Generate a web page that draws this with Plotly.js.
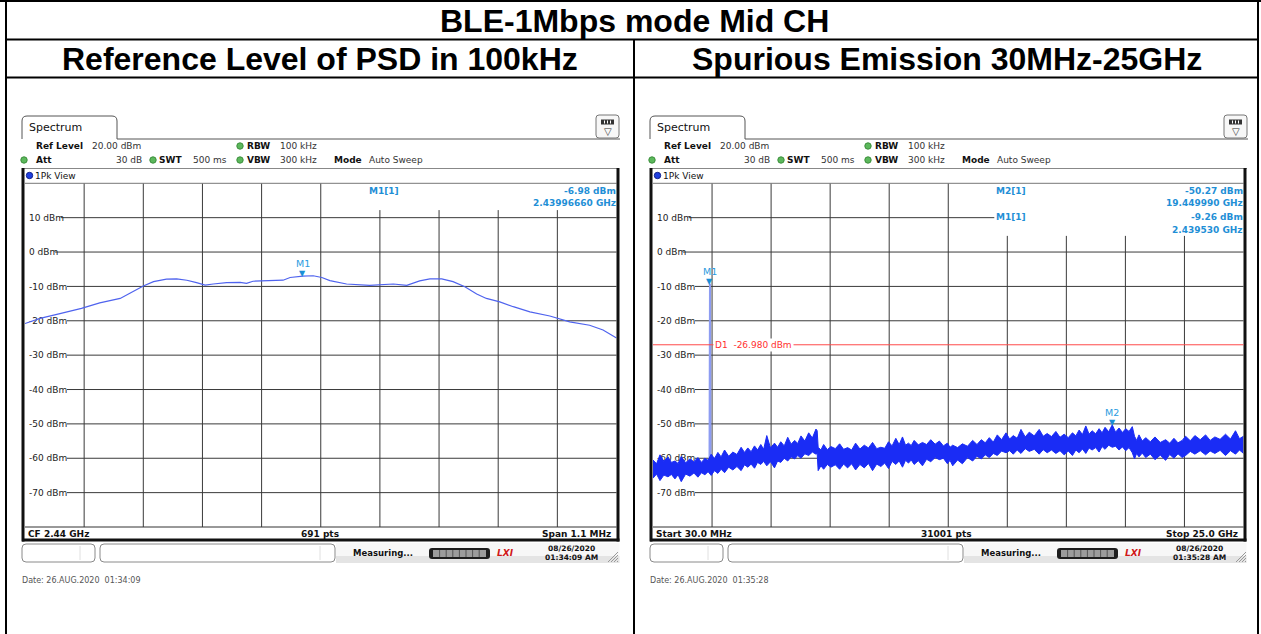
<!DOCTYPE html>
<html><head><meta charset="utf-8">
<script src="https://cdn.plot.ly/plotly-3.0.1.min.js"></script>
<style>html,body{margin:0;padding:0;background:#fff;}#chart{width:1261px;height:634px;}</style>
</head><body><div id="chart"></div>
<script>
// ---------------- data ----------------
const tableTitle = 'BLE-1Mbps mode Mid CH';
const panelTitles = ['Reference Level of PSD in 100kHz', 'Spurious Emission 30MHz-25GHz'];
const yTickVals = [10, 0, -10, -20, -30, -40, -50, -60, -70];
const yTickText = ['10 dBm', '0 dBm', '-10 dBm', '-20 dBm', '-30 dBm', '-40 dBm', '-50 dBm', '-60 dBm', '-70 dBm'];

// Left: PSD, CF 2.44 GHz, span 1.1 MHz
const psdFreqGHz = [2.43945, 2.439478, 2.439515, 2.439555, 2.439589, 2.439614, 2.439627, 2.439645, 2.439670, 2.439689,
  2.439713, 2.439732, 2.439751, 2.439769, 2.439785, 2.439800, 2.439825, 2.439850, 2.439862, 2.439874,
  2.439899, 2.439930, 2.439943, 2.4399666, 2.439986, 2.440002, 2.440017, 2.440048, 2.440091, 2.440135,
  2.440160, 2.440184, 2.440203, 2.440225, 2.440246, 2.440268, 2.440290, 2.440308, 2.440333, 2.440358,
  2.440389, 2.440426, 2.440463, 2.440500, 2.440525, 2.44055];
const psdLevel = [-20.8, -19.3, -17.9, -16.4, -14.8, -13.8, -13.5, -12.0, -9.9, -8.6,
  -7.9, -7.8, -8.2, -8.9, -9.6, -9.3, -8.9, -8.8, -9.1, -8.5,
  -8.4, -8.2, -7.4, -6.98, -6.9, -7.4, -8.3, -9.3, -9.7, -9.3,
  -9.7, -8.4, -7.8, -7.8, -8.6, -10.1, -12.2, -13.5, -14.5, -15.9,
  -17.4, -18.6, -20.3, -21.3, -22.7, -25.0];
const psdMarkerNames = ['M1'];
const psdMarkerFreq = [2.4399666];
const psdMarkerLevel = [-6.98];

// Right: spurious 30 MHz - 25 GHz (upper / lower edge of the noise band)
const spurFreqGHz = [0.03, 0.18, 0.325, 0.49, 0.663, 0.81, 0.958, 1.09, 1.224, 1.41,
  1.591, 1.76, 1.929, 2.08, 2.224, 2.36, 2.490, 2.63, 2.773, 2.91,
  3.056, 3.23, 3.406, 3.58, 3.756, 3.90, 4.039, 4.18, 4.322, 4.45,
  4.588, 4.71, 4.841, 5.00, 5.166, 5.30, 5.432, 5.58, 5.727, 5.87,
  6.022, 6.15, 6.288, 6.45, 6.613, 6.77, 6.921, 6.972, 7.014, 7.13,
  7.246, 7.40, 7.554, 7.74, 7.921, 8.09, 8.259, 8.43, 8.597, 8.78,
  8.964, 9.14, 9.314, 9.49, 9.664, 9.83, 9.989, 10.14, 10.297, 10.44,
  10.580, 10.71, 10.833, 10.95, 11.074, 11.25, 11.424, 11.60, 11.774, 11.96,
  12.141, 12.31, 12.479, 12.59, 12.703, 12.91, 13.112, 13.33, 13.547, 13.73,
  13.914, 14.08, 14.251, 14.42, 14.589, 14.77, 14.957, 15.11, 15.265, 15.43,
  15.590, 15.77, 15.940, 16.15, 16.361, 16.53, 16.699, 16.88, 17.066, 17.24,
  17.416, 17.59, 17.767, 17.91, 18.049, 18.19, 18.332, 18.47, 18.598, 18.75,
  18.893, 19.02, 19.146, 19.30, 19.450, 19.59, 19.737, 19.88, 20.020, 20.16,
  20.298, 20.391, 20.48, 20.581, 20.72, 20.864, 21.06, 21.256, 21.48, 21.708,
  21.88, 22.058, 22.23, 22.409, 22.552, 22.75, 22.945, 23.17, 23.397, 23.59,
  23.789, 24.01, 24.240, 24.45, 24.662, 24.83, 25.0];
const spurUpper = [-60.5, -61.6, -59.0, -60.9, -59.6, -61.2, -60.8, -61.5, -59.5, -61.3,
  -60.2, -61.0, -59.8, -61.2, -60.0, -60.6, -58.8, -60.1, -58.3, -59.6,
  -57.6, -59.4, -58.2, -58.9, -56.8, -58.3, -57.0, -58.1, -56.4, -57.6,
  -56.0, -57.4, -53.4, -57.0, -55.6, -56.8, -55.2, -56.4, -53.9, -55.9,
  -54.8, -55.7, -53.5, -55.0, -52.6, -54.1, -51.5, -52.0, -56.8, -57.6,
  -56.0, -57.5, -56.6, -57.2, -55.8, -57.4, -56.9, -57.6, -55.6, -57.3,
  -56.2, -57.0, -55.4, -57.2, -56.8, -57.1, -55.2, -56.4, -54.2, -56.0,
  -53.8, -56.2, -55.6, -56.3, -54.8, -56.1, -55.4, -56.0, -54.6, -55.9,
  -55.0, -56.4, -55.6, -56.8, -56.2, -56.9, -55.8, -56.5, -54.8, -56.0,
  -54.6, -55.5, -54.0, -55.3, -53.2, -54.6, -52.6, -54.4, -53.4, -54.2,
  -51.6, -53.8, -52.4, -53.5, -51.6, -53.6, -52.8, -53.7, -52.2, -53.9,
  -53.0, -54.0, -52.6, -53.5, -51.8, -53.1, -50.6, -53.0, -52.0, -52.9,
  -51.4, -52.6, -51.0, -52.3, -50.27, -52.4, -51.2, -52.5, -51.4, -52.2,
  -50.8, -53.6, -54.8, -53.2, -55.0, -54.0, -55.2, -53.8, -55.4, -54.6,
  -55.6, -54.2, -55.5, -54.8, -53.6, -54.9, -53.4, -54.6, -53.2, -54.8,
  -53.8, -54.5, -53.0, -54.4, -52.0, -54.3, -53.6];
const spurLower = [-65.8, -64.6, -66.5, -64.9, -65.4, -64.7, -66.0, -64.8, -66.8, -64.6,
  -65.2, -64.3, -65.5, -64.2, -64.8, -63.9, -65.0, -63.6, -64.4, -63.2,
  -64.2, -62.6, -63.4, -62.4, -63.6, -61.9, -62.6, -61.7, -62.9, -61.2,
  -61.8, -60.9, -62.2, -61.0, -62.8, -60.8, -61.2, -60.0, -60.8, -59.6,
  -60.2, -59.2, -60.0, -58.7, -59.2, -58.2, -58.8, -58.6, -63.6, -62.2,
  -63.2, -61.8, -62.6, -61.9, -63.2, -61.7, -62.8, -61.6, -63.4, -61.8,
  -62.8, -61.5, -63.6, -61.7, -62.4, -61.4, -63.0, -60.9, -61.8, -60.8,
  -62.6, -60.6, -61.4, -60.5, -61.8, -60.7, -62.2, -60.3, -61.0, -59.8,
  -60.4, -60.0, -61.6, -60.6, -62.2, -60.5, -61.6, -59.8, -60.8, -59.4,
  -60.2, -59.0, -59.8, -58.6, -59.2, -57.9, -58.4, -57.8, -58.8, -57.6,
  -58.6, -57.2, -58.0, -57.4, -58.8, -57.5, -58.4, -57.6, -58.6, -57.8,
  -59.0, -57.9, -59.2, -57.6, -58.4, -57.3, -58.6, -57.0, -57.6, -56.9,
  -58.2, -56.6, -57.4, -56.2, -56.8, -56.5, -57.6, -56.7, -57.8, -56.9,
  -58.4, -60.2, -58.6, -59.6, -58.5, -59.8, -58.8, -60.4, -59.1, -60.6,
  -58.9, -60.0, -58.7, -59.8, -59.2, -58.0, -58.8, -57.8, -59.0, -57.9,
  -58.6, -57.7, -59.2, -57.8, -58.8, -57.6, -58.6];
const carrierFreqGHz = [2.42, 2.43953, 2.46];
const carrierLevel = [-60.0, -9.26, -60.0];
const spurMarkerNames = ['M1', 'M2'];
const spurMarkerFreq = [2.43953, 19.44999];
const spurMarkerLevel = [-9.26, -50.27];
const d1Level = -26.98;

// ---------------- helpers ----------------
const W = 1261, H = 634;
const X = px => px / W;
const Y = py => 1 - py / H;
const P = (x, y) => X(x) + ',' + Y(y);
const UI = 'DejaVu Sans, Verdana, sans-serif';
const TF = 'Liberation Sans, Arial, sans-serif';
const INFO = '#1f8fd6';
const shapes = [], annotations = [];

function line(x0, y0, x1, y1, color, width, layer) {
  shapes.push({type: 'line', xref: 'paper', yref: 'paper', x0: X(x0), y0: Y(y0), x1: X(x1), y1: Y(y1),
    line: {color: color, width: width}, layer: layer || 'above'});
}
function rect(x0, y0, x1, y1, fill, lc, lw, layer) {
  shapes.push({type: 'rect', xref: 'paper', yref: 'paper', x0: X(x0), y0: Y(y0), x1: X(x1), y1: Y(y1),
    fillcolor: fill || 'rgba(0,0,0,0)', line: {color: lc || 'rgba(0,0,0,0)', width: lw || 0}, layer: layer || 'above'});
}
function rrect(x0, y0, x1, y1, r, fill, lc, lw) {
  const p = 'M' + P(x0 + r, y0) + ' L' + P(x1 - r, y0) + ' Q' + P(x1, y0) + ' ' + P(x1, y0 + r) +
    ' L' + P(x1, y1 - r) + ' Q' + P(x1, y1) + ' ' + P(x1 - r, y1) + ' L' + P(x0 + r, y1) +
    ' Q' + P(x0, y1) + ' ' + P(x0, y1 - r) + ' L' + P(x0, y0 + r) + ' Q' + P(x0, y0) + ' ' + P(x0 + r, y0) + ' Z';
  shapes.push({type: 'path', xref: 'paper', yref: 'paper', path: p, fillcolor: fill || 'rgba(0,0,0,0)',
    line: {color: lc || 'rgba(0,0,0,0)', width: lw || 0}, layer: 'above'});
}
function dot(cx, cy, r, fill, lc) {
  shapes.push({type: 'circle', xref: 'paper', yref: 'paper', x0: X(cx - r), x1: X(cx + r), y0: Y(cy + r), y1: Y(cy - r),
    fillcolor: fill, line: {color: lc, width: 1}, layer: 'above'});
}
function ann(x, y, t, size, o) {
  o = o || {};
  annotations.push(Object.assign({xref: 'paper', yref: 'paper', x: X(x), y: Y(y), text: t, showarrow: false,
    xanchor: o.xa || 'left', yanchor: o.ya || 'middle', borderpad: 0, borderwidth: 0,
    font: {family: o.family || UI, size: size, color: o.color || '#111'}}, o.extra || {}));
}

// ---------------- table frame ----------------
line(0, 1, W, 1, '#000', 2);
line(5, 39.5, 1259, 39.5, '#000', 2);
line(5, 77.5, 1259, 77.5, '#000', 2);
line(6, 0, 6, H, '#000', 2);
line(634, 39.5, 634, H, '#000', 2);
line(1258, 0, 1258, H, '#000', 2);
ann(634, 21, '<b>' + tableTitle + '</b>', 32, {xa: 'center', family: TF, color: '#000'});
ann(320, 59, '<b>' + panelTitles[0] + '</b>', 32, {xa: 'center', family: TF, color: '#000'});
ann(947, 59, '<b>' + panelTitles[1] + '</b>', 32, {xa: 'center', family: TF, color: '#000'});

// ---------------- analyzer panels ----------------
function panel(dx, cfg) {
  const tx0 = 22 + dx, tx1 = 117 + dx, ty0 = 116, ty1 = 139;
  shapes.push({type: 'path', xref: 'paper', yref: 'paper', layer: 'above',
    path: 'M' + P(tx0, ty1) + ' L' + P(tx0, ty0 + 5) + ' Q' + P(tx0, ty0) + ' ' + P(tx0 + 5, ty0) +
      ' L' + P(tx1 - 5, ty0) + ' Q' + P(tx1, ty0) + ' ' + P(tx1, ty0 + 5) + ' L' + P(tx1, ty1),
    line: {color: '#555', width: 1}});
  line(tx1, ty1, 620 + dx, ty1, '#555', 1);
  ann(29 + dx, 128, 'Spectrum', 11);
  rrect(596 + dx, 115, 619 + dx, 138, 3, '#f7f7f7', '#777', 1);
  rect(601 + dx, 119.5, 614 + dx, 124.5, '#333');
  [604.5, 607.5, 610.5].forEach(function (x) { line(x + dx, 120.5, x + dx, 123.5, '#fff', 1); });
  ann(607.5 + dx, 131, '▽', 10, {xa: 'center', color: '#333'});
  ann(36 + dx, 146, '<b>Ref Level</b>', 9); ann(92 + dx, 146, '20.00 dBm', 9, {color: '#333'});
  dot(240 + dx, 146, 3.2, '#5cb85c', '#3c8f3c');
  ann(247 + dx, 146, '<b>RBW</b>', 9); ann(280 + dx, 146, '100 kHz', 9, {color: '#333'});
  dot(24 + dx, 160, 3.2, '#5cb85c', '#3c8f3c');
  ann(36 + dx, 160, '<b>Att</b>', 9); ann(116 + dx, 160, '30 dB', 9, {color: '#333'});
  dot(153 + dx, 160, 3.2, '#5cb85c', '#3c8f3c');
  ann(159 + dx, 160, '<b>SWT</b>', 9); ann(193 + dx, 160, '500 ms', 9, {color: '#333'});
  dot(240 + dx, 160, 3.2, '#5cb85c', '#3c8f3c');
  ann(247 + dx, 160, '<b>VBW</b>', 9); ann(280 + dx, 160, '300 kHz', 9, {color: '#333'});
  ann(334 + dx, 160, '<b>Mode</b>', 9); ann(369 + dx, 160, 'Auto Sweep', 9, {color: '#333'});
  line(22 + dx, 168.5, 619 + dx, 168.5, '#888', 1);
  dot(29.5 + dx, 175.5, 3.2, '#1f3fe0', '#10208a');
  ann(35 + dx, 175.5, '1Pk View', 9);
  line(cfg.pl, 183.3, cfg.pr, 183.3, '#777', 1);
  line(cfg.pl, 527, cfg.pr, 527, '#333', 1);
  line(23 + dx, 168, 23 + dx, 541.5, '#111', 3);
  line(cfg.pr + 1.5, 168, cfg.pr + 1.5, 541.5, '#111', 3);
  line(22 + dx, 540, cfg.pr + 3, 540, '#111', 3);
  ann(28 + dx, 534, '<b>' + cfg.footL + '</b>', 9);
  ann(cfg.footMidX, 534, '<b>' + cfg.footM + '</b>', 9, {xa: 'center'});
  ann(cfg.pr - 6, 534, '<b>' + cfg.footR + '</b>', 9, {xa: 'right'});
  rect(336 + dx, 543, cfg.pr + 3, 556, '#f7f7f7');
  rect(336 + dx, 556, cfg.pr + 3, 563, '#e4e4e4');
  rrect(22 + dx, 544, 95 + dx, 562, 4, '#fff', '#8a8a8a', 1);
  line(80 + dx, 546, 80 + dx, 560, '#e0e0e0', 1);
  rrect(100 + dx, 544, 335 + dx, 562, 4, '#fff', '#8a8a8a', 1);
  line(320 + dx, 546, 320 + dx, 560, '#e0e0e0', 1);
  ann(353 + dx, 553, '<b>Measuring...</b>', 8.5);
  rrect(429 + dx, 548, 490 + dx, 559, 3, '#1e1e1e');
  rect(433 + dx, 550, 486 + dx, 557, '#9c9c9c');
  for (let k = 1; k < 8; k++) line(433 + dx + k * 6.6, 550, 433 + dx + k * 6.6, 557, '#555', 1);
  ann(505 + dx, 553, '<b><i>LXI</i></b>', 9, {xa: 'center', color: '#d01818'});
  ann(571 + dx, 548.5, '<b>08/26/2020</b>', 7.5, {xa: 'center'});
  ann(571 + dx, 557, '<b>' + cfg.clock + '</b>', 7.5, {xa: 'center'});
  for (let k = 0; k < 4; k++) line(608 + dx + k * 3, 562, 618 + dx, 552 + k * 3, '#999', 1);
  ann(22 + dx, 580.5, cfg.stamp, 8, {color: '#555'});

  const pw = cfg.pr - cfg.pl;
  for (let i = 1; i < 10; i++) {
    shapes.push({type: 'line', xref: cfg.xa + ' domain', yref: cfg.ya + ' domain', x0: i / 10, x1: i / 10,
      y0: 0, y1: i >= cfg.partFrom ? cfg.partTop : 1, line: {color: '#3a3a3a', width: 1}, layer: 'below'});
  }
  yTickVals.forEach(function (v, j) {
    const start = (6 * yTickText[j].length) / pw;
    shapes.push({type: 'line', xref: cfg.xa + ' domain', yref: cfg.ya, x0: start, x1: v === 10 ? cfg.tenEnd : 1,
      y0: v, y1: v, line: {color: '#3a3a3a', width: 1}, layer: 'below'});
  });
  cfg.info.forEach(function (it, k) {
    const y0 = 190.5 + k * 26.3;
    ann(cfg.infoX, y0, '<b>' + it.name + '[1]</b>', 9, {color: INFO});
    ann(cfg.pr - 1, y0, '<b>' + it.level.toFixed(2) + ' dBm</b>', 9, {xa: 'right', color: INFO});
    ann(cfg.pr - 1, y0 + 12.8, '<b>' + it.freq.toFixed(it.dec) + ' GHz</b>', 9, {xa: 'right', color: INFO});
  });
}

const L = {pl: 25, pr: 616.5, xa: 'x', ya: 'y', footL: 'CF 2.44 GHz', footM: '691 pts', footMidX: 320,
  footR: 'Span 1.1 MHz', clock: '01:34:09 AM', stamp: 'Date:&nbsp;26.AUG.2020&nbsp;&nbsp;01:34:09',
  partFrom: 6, partTop: 0.922, tenEnd: 1, infoX: 369,
  info: [{name: psdMarkerNames[0], level: psdMarkerLevel[0], freq: psdMarkerFreq[0], dec: 8}]};
const R = {pl: 653, pr: 1243.5, xa: 'x2', ya: 'y2', footL: 'Start 30.0 MHz', footM: '31001 pts', footMidX: 946,
  footR: 'Stop 25.0 GHz', clock: '01:35:28 AM', stamp: 'Date:&nbsp;26.AUG.2020&nbsp;&nbsp;01:35:28',
  partFrom: 6, partTop: 0.847, tenEnd: 0.578, infoX: 996,
  info: [{name: spurMarkerNames[1], level: spurMarkerLevel[1], freq: spurMarkerFreq[1], dec: 6},
         {name: spurMarkerNames[0], level: spurMarkerLevel[0], freq: spurMarkerFreq[0], dec: 6}]};
panel(0, L);
panel(628, R);

shapes.push({type: 'line', xref: 'x2 domain', yref: 'y2', x0: 0, x1: 1, y0: d1Level, y1: d1Level,
  line: {color: '#ff4a4a', width: 1}, layer: 'above'});
annotations.push({xref: 'x2 domain', yref: 'y2', x: 0.101, y: d1Level, xanchor: 'left', yanchor: 'middle',
  text: 'D1&nbsp;&nbsp;' + d1Level.toFixed(3) + ' dBm', showarrow: false, bgcolor: '#fff', borderpad: 1,
  font: {family: UI, size: 9, color: '#ff3030'}});

function markers(names, fr, lv, xa, ya) {
  names.forEach(function (n, k) {
    annotations.push({xref: xa, yref: ya, x: fr[k], y: lv[k], text: '▼', showarrow: false, yanchor: 'bottom',
      yshift: -3, borderpad: 0, font: {family: UI, size: 8, color: '#1a8fd6'}});
    annotations.push({xref: xa, yref: ya, x: fr[k], y: lv[k], text: n, showarrow: false, yanchor: 'bottom',
      yshift: 6, borderpad: 0, font: {family: UI, size: 9.5, color: '#2a9be0'}});
  });
}
markers(psdMarkerNames, psdMarkerFreq, psdMarkerLevel, 'x', 'y');
markers(spurMarkerNames, spurMarkerFreq, spurMarkerLevel, 'x2', 'y2');

// ---------------- traces ----------------
const band = '#1a2cf5';
const traces = [
  {x: psdFreqGHz, y: psdLevel, xaxis: 'x', yaxis: 'y', mode: 'lines', line: {color: '#4f63ee', width: 1.2}, hoverinfo: 'skip'},
  {x: carrierFreqGHz, y: carrierLevel, xaxis: 'x2', yaxis: 'y2', mode: 'lines', line: {color: '#8d9cf2', width: 2}, hoverinfo: 'skip'},
  {x: spurFreqGHz, y: spurLower, xaxis: 'x2', yaxis: 'y2', mode: 'lines', line: {color: band, width: 1}, hoverinfo: 'skip'},
  {x: spurFreqGHz, y: spurUpper, xaxis: 'x2', yaxis: 'y2', mode: 'lines', fill: 'tonexty', fillcolor: band,
    line: {color: band, width: 1}, hoverinfo: 'skip'}
];

function yax(anchor) {
  return {anchor: anchor, domain: [Y(527), Y(183.3)], range: [-80, 20], tickvals: yTickVals, ticktext: yTickText,
    ticklabelposition: 'inside', ticks: '', ticklabelstandoff: 1, showgrid: false, zeroline: false, showline: false,
    layer: 'below traces', fixedrange: true, tickfont: {family: UI, size: 9, color: '#222'}};
}
const layout = {
  width: W, height: H, margin: {l: 0, r: 0, t: 0, b: 0, pad: 0},
  paper_bgcolor: '#fff', plot_bgcolor: 'rgba(0,0,0,0)', showlegend: false,
  xaxis: {domain: [X(25), X(616.5)], range: [2.43945, 2.44055], visible: false, fixedrange: true, anchor: 'y'},
  yaxis: yax('x'),
  xaxis2: {domain: [X(653), X(1243.5)], range: [0.03, 25], visible: false, fixedrange: true, anchor: 'y2'},
  yaxis2: yax('x2'),
  shapes: shapes, annotations: annotations
};
Plotly.newPlot('chart', traces, layout, {staticPlot: true, displayModeBar: false});
</script></body></html>
